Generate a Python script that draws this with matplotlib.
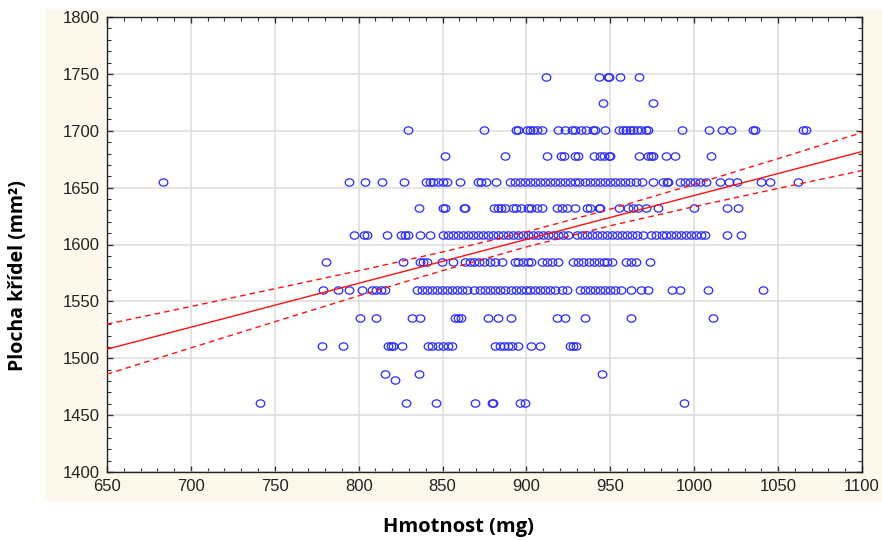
import matplotlib
matplotlib.use('Agg')
import matplotlib.pyplot as plt
from matplotlib.patches import Rectangle
from matplotlib.path import Path
from matplotlib.transforms import Affine2D
from matplotlib.ticker import MultipleLocator

# masses (mg), one list per wing-area level (mm2)
row_1747 = [911.5, 943, 948.5, 949, 956, 967]
row_1724 = [945.5, 975.5]
row_1701 = [829.5, 874.5, 893.5, 895, 900.5, 902, 904, 906, 909, 919, 923, 927, 929,
            932.5, 935.5, 939.5, 941, 947, 955, 957.5, 959.5, 961.5, 963.5, 966, 968.5,
            971.5, 972.5, 992.5, 1009, 1016.5, 1022, 1035, 1036, 1065, 1066.5]
row_1678 = [851.5, 887, 912.5, 920.5, 922.5, 929, 931, 940.5, 944, 946, 949, 950, 967,
            972.5, 974.5, 975.5, 983, 988.5, 1010]
row_1655 = [683.5, 794, 804, 814, 827, 840, 842.5, 844.5, 847.5, 850.5, 852.5, 860.5, 871,
            873, 876, 882, 890, 893, 896, 899, 902, 905, 908, 911, 914, 917, 920, 923, 926,
            929, 931.5, 935, 938, 941, 944, 947, 950, 953, 956, 959, 962, 965, 969, 975.5,
            981.5, 983.5, 984.5, 991.5, 994.5, 997.5, 1000.5, 1003.5, 1007, 1015.5, 1020.5,
            1025.5, 1040, 1045, 1062]
row_1632 = [836, 850.5, 851.5, 862.5, 863.5, 880.5, 883, 885, 887, 892, 894, 897, 901, 903,
            906, 909, 918, 921, 924, 929, 936, 938, 943, 944, 955, 960.5, 963.5, 966.5,
            971.5, 978.5, 1000, 1019.5, 1026]
row_1608 = [797, 803, 805, 817, 825.5, 827.5, 829.5, 836.5, 842.5, 850, 853, 856, 859, 862,
            865, 868, 871, 874, 877, 880, 883, 886, 889, 892, 895, 898, 901, 904, 907, 910,
            913, 916, 919, 922, 925, 930, 933, 936, 939, 942, 945, 948, 951, 954, 957, 960,
            963, 966, 969.5, 974, 977, 981, 983, 986, 989, 992, 995, 998, 1001, 1004, 1006.5,
            1019.5, 1028]
row_1585 = [780.5, 826.5, 836.5, 838.5, 840.5, 849.5, 856.5, 863.5, 866.5, 868.5, 871.5,
            874.5, 878.5, 881.5, 885.5, 893, 895, 898, 901, 903, 909, 912, 915, 919, 928, 931,
            934, 937, 940, 943, 946, 948, 951, 959.5, 962.5, 965.5, 973.5]
row_1560 = [778.5, 787.5, 794, 802, 808, 810.5, 813.5, 815.5, 834.5, 837.5, 840.5, 843.5,
            846.5, 849.5, 852.5, 855.5, 858.5, 861.5, 864.5, 868.5, 872.5, 875.5, 878.5,
            881.5, 884.5, 887.5, 890.5, 893.5, 896.5, 900, 902, 905, 908, 911, 914, 917, 921,
            924, 932, 935, 938, 941, 944, 947, 950, 953, 956.5, 962.5, 968.5, 972.5, 986.5,
            991.5, 1008, 1041]
row_1535 = [800.5, 810.5, 831.5, 836.5, 857.5, 859.5, 861, 877, 883, 891, 918, 923, 935,
            962.5, 1011]
row_1511 = [778, 790.5, 817.5, 819, 820.5, 826, 841.5, 844, 847, 850, 853, 855.5, 881.5,
            884.5, 886.5, 889, 891.5, 895, 903, 908, 926, 928, 929.5]
row_1486 = [815.5, 836, 945]
row_1481 = [821.5]
row_1461 = [741, 828.5, 846, 869.5, 879.5, 880, 896, 899, 994]

levels = [1747, 1724, 1701, 1678, 1655, 1632, 1608, 1585, 1560, 1535, 1511, 1486, 1481, 1461]
rows = [row_1747, row_1724, row_1701, row_1678, row_1655, row_1632, row_1608, row_1585,
        row_1560, row_1535, row_1511, row_1486, row_1481, row_1461]

# regression line and 95% band read at a few masses
fit_x = [650, 700, 750, 800, 850, 900, 950, 1000, 1050, 1100]
fit_y = [1508, 1527.3, 1546.6, 1565.9, 1585.2, 1604.5, 1623.8, 1643.1, 1662.4, 1681.7]
band_up = [1530, 1545.5, 1561.1, 1576.9, 1593.4, 1611.1, 1631.1, 1652.9, 1675.5, 1698.4]
band_lo = [1486, 1509.1, 1532.1, 1554.9, 1577.0, 1597.9, 1616.5, 1633.3, 1649.3, 1665.0]

fig = plt.figure(figsize=(8.82, 5.4), dpi=100)
fig.patches.append(Rectangle((45 / 882, 1 - 500 / 540), 837 / 882, 491 / 540,
                             transform=fig.transFigure, color='#fdf8ec', zorder=-1))
ax = fig.add_axes([107 / 882, 1 - 472 / 540, 755 / 882, 455 / 540])
ax.set_facecolor('white')

# slightly flattened circle, like the original markers
oval = Path.unit_circle().transformed(Affine2D().scale(1.0, 0.85))

for lvl, xs in zip(levels, rows):
    ax.plot(xs, [lvl] * len(xs), ls='none', marker=oval, ms=6.2, mfc='none',
            mec='#2a2aff', mew=0.9, zorder=3)

ax.plot(fit_x, fit_y, color='#ff1010', lw=1, zorder=4)
ax.plot(fit_x, band_up, color='#ff1010', lw=1, dashes=(4, 3), zorder=4)
ax.plot(fit_x, band_lo, color='#ff1010', lw=1, dashes=(4, 3), zorder=4)

ax.set_xlim(650, 1100)
ax.set_ylim(1400, 1800)
ax.xaxis.set_major_locator(MultipleLocator(50))
ax.xaxis.set_minor_locator(MultipleLocator(10))
ax.yaxis.set_major_locator(MultipleLocator(50))
ax.yaxis.set_minor_locator(MultipleLocator(10))
ax.grid(True, which='major', color='#dcdcdc', lw=1.1, zorder=0)
ax.set_axisbelow(True)
ax.tick_params(which='both', direction='in', top=True, right=True, color='#333333',
               labelsize=12, labelcolor='#222222', labelfontfamily='Liberation Sans')
ax.tick_params(which='major', length=4, width=1, pad=5)
ax.tick_params(which='minor', length=3, width=0.8)
for s in ax.spines.values():
    s.set_color('#222222')
    s.set_linewidth(1)

fig.text(458 / 882, 1 - 527 / 540, 'Hmotnost (mg)', ha='center', va='center',
         fontsize=14.5, fontweight='bold', family='Open Sans')
fig.text(18 / 882, 1 - 276 / 540, 'Plocha křídel (mm²)', ha='center', va='center',
         rotation=90, fontsize=14, fontweight='bold', family='Open Sans')

fig.savefig('out.png', dpi=100)
